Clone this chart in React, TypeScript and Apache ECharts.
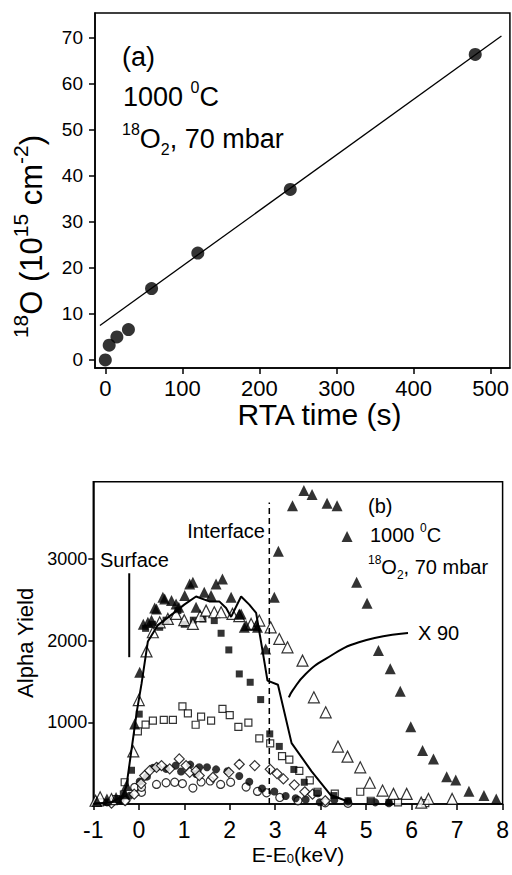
import React, { useEffect, useRef } from "react";
import * as echarts from "echarts";

// ---------- Panel (a): 18O amount vs RTA time ----------
const rtaTime = [0, 5, 15, 30, 60, 120, 240, 480];
const oxygen18 = [0, 3.2, 5.0, 6.6, 15.5, 23.2, 37.0, 66.3];
const fitTime = [-7, 514];
const fitO18 = [7.5, 70.3];
const aXTicks = [0, 100, 200, 300, 400, 500];
const aYTicks = [0, 10, 20, 30, 40, 50, 60, 70];

// ---------- Panel (b): alpha yield vs E-E0 ----------
const bYTicks = [1000, 2000, 3000];

// filled triangles, right peak
const peakX = [2.98, 3.07, 3.38, 3.63, 3.81, 4.14, 4.36, 4.58, 4.79, 5.02, 5.27, 5.53, 5.75, 5.98, 6.24, 6.48, 6.77, 6.97, 7.26, 7.59, 7.86];
const peakY = [2530, 3093, 3652, 3837, 3787, 3681, 3652, 3273, 2714, 2457, 1878, 1654, 1380, 947, 654, 552, 335, 295, 155, 103, 62];
// filled triangles, surface plateau
const plateauX = [-0.92, -0.7, -0.5, -0.31, -0.27, -0.09, 0.02, 0.1, 0.2, 0.28, 0.35, 0.39, 0.53, 0.57, 0.72, 0.82, 0.88, 1.01, 1.12, 1.19, 1.26, 1.44, 1.59, 1.7, 1.84, 2.03, 2.21, 2.25, 2.32, 2.36, 2.58, 2.61, 2.79];
const plateauY = [30, 62, 80, 124, 225, 980, 1612, 2200, 2224, 2250, 2400, 2388, 2530, 2510, 2490, 2449, 2408, 2551, 2694, 2714, 2408, 2591, 2551, 2694, 2755, 2530, 2327, 2327, 2163, 2184, 2184, 2163, 1898];
// open triangles
const openTriX = [-0.95, -0.85, -0.6, -0.12, 0.0, 0.17, 0.31, 0.46, 0.64, 0.82, 1.0, 1.19, 1.35, 1.48, 1.66, 1.81, 2.06, 2.21, 2.47, 2.65, 2.9, 3.09, 3.27, 3.6, 3.85, 4.11, 4.38, 4.59, 4.87, 5.08, 5.36, 5.6, 5.89, 6.21, 6.37, 6.89];
const openTriY = [40, 82, 60, 643, 1272, 1868, 2102, 2224, 2265, 2327, 2250, 2204, 2300, 2367, 2347, 2347, 2327, 2300, 2204, 2245, 2163, 2020, 1918, 1755, 1306, 1122, 703, 580, 449, 260, 164, 124, 124, 17, 62, 62];
// filled squares
const fillSqX = [-0.7, -0.45, -0.34, -0.16, 0.01, 0.15, 0.3, 0.46, 0.6, 0.86, 1.0, 1.2, 1.41, 1.66, 1.81, 1.98, 2.21, 2.45, 2.68, 2.88, 3.09, 3.41, 3.64, 3.92, 4.29, 4.6, 5.1, 5.5];
const fillSqY = [20, 60, 124, 413, 1100, 2150, 2200, 2163, 2250, 2367, 2200, 2250, 2265, 2245, 2090, 1886, 1592, 1490, 1278, 858, 705, 423, 266, 137, 103, 40, 30, 20];
// open squares
const openSqX = [-0.85, -0.5, -0.31, -0.02, 0.15, 0.31, 0.55, 0.75, 0.96, 1.08, 1.25, 1.37, 1.59, 1.84, 2.0, 2.19, 2.41, 2.65, 2.89, 3.15, 3.31, 3.53, 3.76, 3.93, 4.31, 4.87, 5.1, 5.7, 6.3];
const openSqY = [20, 60, 266, 890, 972, 1021, 1029, 1029, 1194, 1110, 970, 1070, 1021, 1164, 1088, 943, 996, 804, 743, 586, 543, 405, 290, 150, 128, 150, 40, 20, 10];
// open diamonds
const diamondX = [-0.6, -0.3, -0.1, 0.05, 0.13, 0.24, 0.39, 0.5, 0.68, 0.89, 1.04, 1.12, 1.26, 1.33, 1.63, 1.98, 2.21, 2.55, 2.89, 3.04, 3.18, 3.42, 3.65, 3.82, 4.1];
const diamondY = [10, 40, 120, 250, 348, 409, 449, 470, 430, 552, 470, 388, 405, 348, 327, 388, 486, 470, 424, 372, 307, 235, 150, 120, 40];
// filled circles
const fillCircX = [-0.7, -0.4, -0.2, 0.02, 0.18, 0.31, 0.41, 0.6, 0.81, 0.93, 1.13, 1.26, 1.33, 1.5, 1.7, 1.95, 2.21, 2.43, 2.71, 2.98, 3.23, 3.45, 3.67, 3.94, 3.98, 4.3, 4.6, 5.2, 5.5];
const fillCircY = [20, 50, 100, 276, 335, 442, 457, 430, 470, 398, 482, 368, 449, 449, 424, 400, 342, 272, 190, 154, 98, 70, 55, 131, 21, 50, 30, 20, 10];
// open circles
const openCircX = [-0.3, -0.09, 0.06, 0.06, 0.39, 0.6, 0.79, 0.96, 1.19, 1.37, 1.57, 1.8, 2.02, 2.36, 2.61, 2.81, 3.1, 3.5, 4.1, 4.6];
const openCircY = [40, 204, 143, 204, 240, 260, 266, 250, 195, 270, 282, 240, 266, 208, 154, 137, 80, 40, 15, 8];
// solid profile line (x 90)
const profX = [-1, -0.6, -0.35, -0.27, -0.04, 0.06, 0.2, 0.42, 0.75, 1.0, 1.26, 1.55, 1.77, 1.92, 2.03, 2.25, 2.43, 2.58, 2.72, 2.83, 3.06, 3.36, 3.8, 4.22, 4.6];
const profY = [0, 20, 100, 225, 1143, 1470, 1990, 2190, 2330, 2440, 2540, 2480, 2480, 2400, 2290, 2540, 2440, 2340, 1880, 1510, 1460, 745, 400, 110, 30];
// annotation lines
const interfaceX = [2.87, 2.87];
const interfaceY = [0, 3690];
const surfaceX = [-0.21, -0.21];
const surfaceY = [2824, 1797];
const arrowX = [5.92, 4.84, 4.11, 3.67, 3.38, 3.3];
const arrowY = [2094, 1979, 1776, 1592, 1388, 1306];

const zip = (xs: number[], ys: number[]) => xs.map((x, i) => [x, ys[i]]);

const FONT = "'Liberation Sans', Arial, sans-serif";
const BLACK = "#000";

function supRich(size: number, ratio = 0.6) {
  const s = Math.round(size * ratio);
  return {
    sup: { fontSize: s, verticalAlign: "top", lineHeight: s, fontFamily: FONT, color: BLACK },
    sub: { fontSize: s, verticalAlign: "bottom", lineHeight: s, fontFamily: FONT, color: BLACK },
    n: { fontSize: size, lineHeight: Math.round(size * 1.35), fontFamily: FONT, color: BLACK },
  };
}

function label(text: string, x: number, y: number, size: number, align = "left") {
  return {
    type: "text",
    x,
    y,
    silent: true,
    style: {
      text,
      rich: supRich(size),
      fontSize: size,
      fontFamily: FONT,
      fill: BLACK,
      lineHeight: Math.round(size * 1.35),
      align,
      verticalAlign: "middle",
      textAlign: align,
      textVerticalAlign: "middle",
    },
  };
}

export default function App() {
  const ref = useRef<HTMLDivElement>(null);
  useEffect(() => {
    if (!ref.current) return;
    const chart = echarts.init(ref.current, null, { renderer: "svg" });
    const openStyle = { color: "#fff", borderColor: BLACK, borderWidth: 1.2 };
    const fillStyle = { color: BLACK };
    const sc = (name: string, xs: number[], ys: number[], symbol: string, size: number, style: any) => ({
      name,
      type: "scatter",
      xAxisIndex: 1,
      yAxisIndex: 1,
      data: zip(xs, ys),
      symbol,
      symbolSize: size,
      itemStyle: style,
      silent: true,
    });
    const axisLine = { show: true, onZero: false, lineStyle: { color: BLACK, width: 1.5 } };
    const axisTick = { show: true, inside: false, length: 6, lineStyle: { color: BLACK, width: 1.5 } };
    const plain = (v: number) => String(v);
    chart.setOption({
      animation: false,
      backgroundColor: "#fff",
      textStyle: { fontFamily: FONT, color: BLACK },
      grid: [
        { left: 95, top: 13, width: 415, height: 355, show: true, borderColor: BLACK, borderWidth: 1.5, backgroundColor: "transparent" },
        { left: 93.3, top: 481.7, width: 413.4, height: 322.3, show: true, borderColor: BLACK, borderWidth: 1.5, backgroundColor: "transparent" },
      ],
      xAxis: [
        {
          type: "value",
          gridIndex: 0,
          min: -13.4,
          max: 525,
          axisLine,
          splitLine: { show: false },
          axisTick: { ...axisTick, customValues: aXTicks },
          axisLabel: { customValues: aXTicks, formatter: plain, fontSize: 22, color: BLACK, fontFamily: FONT, margin: 9 },
          name: "RTA time (s)",
          nameLocation: "middle",
          nameGap: 25,
          nameTextStyle: { fontSize: 30, color: BLACK, fontFamily: FONT, verticalAlign: "top", padding: [0, 0, 0, 34] },
        },
        {
          type: "value",
          gridIndex: 1,
          min: -1,
          max: 8,
          interval: 1,
          axisLine,
          splitLine: { show: false },
          axisTick,
          axisLabel: { formatter: plain, fontSize: 23, color: BLACK, fontFamily: FONT, margin: 14 },
          name: "E-E{sub|0}(keV)",
          nameLocation: "middle",
          nameGap: 40,
          nameTextStyle: { fontSize: 21, color: BLACK, fontFamily: FONT, verticalAlign: "top", rich: supRich(21) },
        },
      ],
      yAxis: [
        {
          type: "value",
          gridIndex: 0,
          min: -1.74,
          max: 75.3,
          axisLine,
          splitLine: { show: false },
          axisTick: { ...axisTick, customValues: aYTicks },
          axisLabel: { customValues: aYTicks, formatter: plain, fontSize: 19, color: BLACK, fontFamily: FONT, margin: 12 },
          name: "{sup|18}{n|O (10}{sup|15}{n| cm}{sup|-2}{n|)}",
          nameLocation: "middle",
          nameGap: 43,
          nameTextStyle: { fontSize: 31, color: BLACK, fontFamily: FONT, rich: supRich(31, 0.68), padding: [0, 92, 0, 0] },
        },
        {
          type: "value",
          gridIndex: 1,
          min: 0,
          max: 3945,
          axisLine,
          splitLine: { show: false },
          axisTick: { ...axisTick, length: 5, customValues: bYTicks },
          axisLabel: { customValues: bYTicks, formatter: plain, fontSize: 18, color: BLACK, fontFamily: FONT, margin: 6 },
          name: "Alpha Yield",
          nameLocation: "middle",
          nameGap: 52,
          nameTextStyle: { fontSize: 22, color: BLACK, fontFamily: FONT },
        },
      ],
      series: [
        {
          name: "fit",
          type: "line",
          xAxisIndex: 0,
          yAxisIndex: 0,
          data: zip(fitTime, fitO18),
          symbol: "none",
          lineStyle: { color: BLACK, width: 1.3 },
          silent: true,
        },
        {
          name: "18O",
          type: "scatter",
          xAxisIndex: 0,
          yAxisIndex: 0,
          data: zip(rtaTime, oxygen18),
          symbol: "circle",
          symbolSize: 13,
          itemStyle: fillStyle,
          silent: true,
        },
        sc("open circles", openCircX, openCircY, "circle", 8, openStyle),
        sc("filled circles", fillCircX, fillCircY, "circle", 8, fillStyle),
        sc("open diamonds", diamondX, diamondY, "diamond", 10, openStyle),
        sc("open squares", openSqX, openSqY, "rect", 7, openStyle),
        sc("filled squares", fillSqX, fillSqY, "rect", 7, fillStyle),
        sc("open triangles", openTriX, openTriY, "triangle", 11, openStyle),
        sc("filled triangles plateau", plateauX, plateauY, "triangle", 11, fillStyle),
        sc("filled triangles peak", peakX, peakY, "triangle", 11, fillStyle),
        {
          name: "profile x90",
          type: "line",
          xAxisIndex: 1,
          yAxisIndex: 1,
          data: zip(profX, profY),
          symbol: "none",
          lineStyle: { color: BLACK, width: 2 },
          silent: true,
        },
        {
          name: "interface",
          type: "line",
          xAxisIndex: 1,
          yAxisIndex: 1,
          data: zip(interfaceX, interfaceY),
          symbol: "none",
          lineStyle: { color: BLACK, width: 1.5, type: [6, 4] },
          silent: true,
        },
        {
          name: "surface",
          type: "line",
          xAxisIndex: 1,
          yAxisIndex: 1,
          data: zip(surfaceX, surfaceY),
          symbol: "none",
          lineStyle: { color: BLACK, width: 2 },
          silent: true,
        },
        {
          name: "x90 arrow",
          type: "line",
          xAxisIndex: 1,
          yAxisIndex: 1,
          data: zip(arrowX, arrowY),
          symbol: "none",
          smooth: true,
          lineStyle: { color: BLACK, width: 2 },
          silent: true,
        },
      ],
      graphic: [
        label("(a)", 122, 57, 27),
        label("{n|1000 }{sup|0}{n|C}", 123, 97, 27),
        label("{sup|18}{n|O}{sub|2}{n|, 70 mbar}", 122, 139, 27),
        label("(b)", 368, 506, 20),
        label("{n|1000 }{sup|0}{n|C}", 370, 535, 20),
        label("{sup|18}{n|O}{sub|2}{n|, 70 mbar}", 368, 567, 20),
        label("Interface", 265, 531, 20, "right"),
        label("Surface", 100, 560, 20),
        label("X 90", 418, 633, 20),
      ],
    });
    return () => chart.dispose();
  }, []);
  return <div ref={ref} style={{ position: "absolute", left: 0, top: 0, width: 512, height: 875 }} />;
}
